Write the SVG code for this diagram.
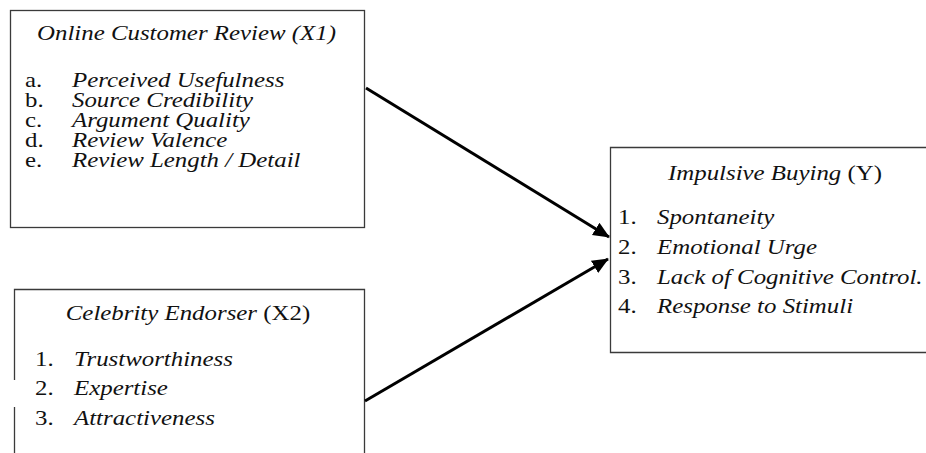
<svg xmlns="http://www.w3.org/2000/svg" width="926" height="453" viewBox="0 0 926 453">
<style>
.box{fill:none;stroke:#3a3a3a;stroke-width:1.3}
text{font-family:"Liberation Serif","Times New Roman",serif;font-size:22px;fill:#111}
.it{font-style:italic}
.ttl{text-anchor:middle}
.con{stroke:#000;stroke-width:3;fill:none}
</style>
<defs>
<marker id="ah" markerWidth="6" markerHeight="6" refX="5.2" refY="3" orient="auto" markerUnits="strokeWidth">
<path d="M0,0.6 L5.5,3 L0,5.4 Z" fill="#000"/>
</marker>
</defs>
<rect width="926" height="453" fill="#fff"/>
<g id="x1">
<rect class="box" x="10.5" y="10.5" width="354" height="217"/>
<g transform="scale(1.13,1)">
<text class="ttl it" x="165.04" y="40">Online Customer Review (X1)</text>
<text x="22.12" y="87.5">a.</text><text class="it" x="63.72" y="87.5">Perceived Usefulness</text>
<text x="22.12" y="107.5">b.</text><text class="it" x="63.72" y="107.5">Source Credibility</text>
<text x="22.12" y="127.5">c.</text><text class="it" x="63.72" y="127.5">Argument Quality</text>
<text x="22.12" y="147.5">d.</text><text class="it" x="63.72" y="147.5">Review Valence</text>
<text x="22.12" y="167.5">e.</text><text class="it" x="63.72" y="167.5">Review Length / Detail</text>
</g>
</g>
<g id="x2">
<path class="box" d="M14.5,380 V289.5 H364.5 V453 M14.5,407 V453"/>
<g transform="scale(1.13,1)">
<text class="ttl" x="166.37" y="320"><tspan class="it">Celebrity Endorser</tspan> (X2)</text>
<text x="30.97" y="366">1.</text><text class="it" x="65.49" y="366">Trustworthiness</text>
<text x="30.97" y="395.5">2.</text><text class="it" x="65.49" y="395.5">Expertise</text>
<text x="30.97" y="425">3.</text><text class="it" x="65.49" y="425">Attractiveness</text>
</g>
</g>
<g id="y">
<path class="box" d="M928,147.5 H610.5 V352.5 H928"/>
<g transform="scale(1.13,1)">
<text class="ttl" x="685.84" y="180.5"><tspan class="it">Impulsive Buying</tspan> (Y)</text>
<text x="546.9" y="224.5">1.</text><text class="it" x="581.42" y="224.5">Spontaneity</text>
<text x="546.9" y="254">2.</text><text class="it" x="581.42" y="254">Emotional Urge</text>
<text x="546.9" y="284">3.</text><text class="it" x="581.42" y="284">Lack of Cognitive Control.</text>
<text x="546.9" y="313.5">4.</text><text class="it" x="581.42" y="313.5">Response to Stimuli</text>
</g>
</g>
<g id="connectors">
<line class="con" x1="366" y1="88" x2="609" y2="237" marker-end="url(#ah)"/>
<line class="con" x1="365" y1="401" x2="608" y2="259" marker-end="url(#ah)"/>
</g>
</svg>
